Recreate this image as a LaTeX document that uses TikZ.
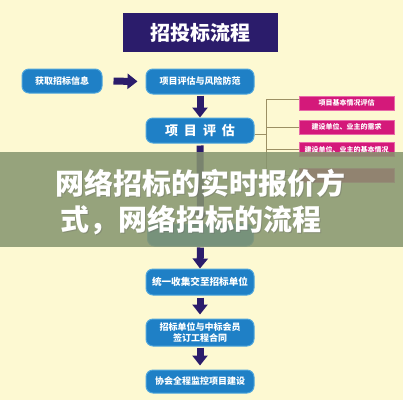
\documentclass[tikz,border=0pt]{standalone}
\usepackage{fontspec}
\setmainfont{Noto Sans CJK SC}
\usetikzlibrary{arrows.meta}
\definecolor{bgy}{HTML}{FDF9D2}
\definecolor{navy}{HTML}{2B1C6B}
\definecolor{bblue}{HTML}{1F80C6}
\definecolor{bbord}{HTML}{4FA6DC}
\definecolor{pink}{HTML}{D4197A}
\definecolor{pbord}{HTML}{E86AA8}
\definecolor{brk}{HTML}{9C9064}
\definecolor{ovl}{HTML}{86956F}
\tikzset{
  bluebox/.style={draw=bbord,line width=1pt,fill=bblue,rounded corners=7pt,text=white,font=\bfseries\fontsize{9}{11}\selectfont,minimum width=108pt,minimum height=25pt,inner sep=1pt,align=center},
  pinkbox/.style={draw=pbord,line width=0.6pt,fill=pink,text=white,font=\bfseries\fontsize{7}{8}\selectfont,minimum width=95pt,minimum height=14pt,inner sep=0pt},
  brline/.style={draw=brk,line width=0.6pt},
  ar/.style={draw=navy,line width=7pt,-{Triangle[width=15pt,length=10pt]}},
  bigtxt/.style={anchor=west,font=\bfseries\fontsize{29}{32}\selectfont,inner sep=0pt}
}
\begin{document}
\begin{tikzpicture}[x=1pt,y=-1pt]
\useasboundingbox (0,0) rectangle (403,400);
\fill[bgy] (0,0) rectangle (403,400);
% title
\node[fill=navy,minimum width=155pt,minimum height=39pt,text=white,font=\bfseries\fontsize{20}{22}\selectfont,inner sep=0pt] (title) at (200.5,32.5) {招投标流程};
% boxes
\node[bluebox,minimum width=80pt,minimum height=24pt] (b1) at (62,81) {获取招标信息};
\node[bluebox] (b2) at (200,81.5) {项目评估与风险防范};
\node[bluebox,font=\bfseries\fontsize{13}{15}\selectfont] (b3) at (200,130.5) {项\hspace{6pt}目\hspace{6pt}评\hspace{6pt}估};
\node[bluebox,minimum width=106pt,minimum height=22pt] (b4) at (200.5,235) {};
\node[bluebox,minimum height=26pt,font=\bfseries\fontsize{9.6}{11}\selectfont] (b5) at (200,282) {统一收集交至招标单位};
\node[bluebox,minimum height=27pt] (b6) at (200,332.5) {招标单位与中标会员\\签订工程合同};
\node[bluebox,minimum height=23pt] (b7) at (200,381.5) {协会全程监控项目建设};
% pink boxes
\node[pinkbox] (p1) at (346.5,103) {项目基本情况评估};
\node[pinkbox] (p2) at (346.5,127) {建设单位、业主的需求};
\node[pinkbox] (p3) at (346.5,149.5) {建设单位、业主的基本情况};
\node[pinkbox] (p4) at (346.5,175.5) {};
% bracket
\coordinate (v0) at (266,99);
\coordinate (v1) at (266,175.5);
\draw[brline] (v0) -- (v1);
\draw[brline] (v0) -- (p1.west |- v0);
\draw[brline] (266,127) -- (p2.west);
\draw[brline] (266,149.5) -- (p3.west);
\draw[brline] (266,175.5) -- (p4.west);
\draw[brline] (b3.east |- 0,134) -- (266,134);
% arrows
\draw[ar,shorten <=11pt,shorten >=8pt] (b1.east) -- (b2.west);
\draw[ar,shorten <=1pt] (b2.south) -- (b3.north);
\draw[ar,shorten <=2pt,shorten >=1pt] (b3.south) -- (b4.north);
\draw[ar,shorten <=1pt] (b4.south) -- (b5.north);
\draw[ar,shorten <=2pt,shorten >=4pt] (b5.south) -- (b6.north);
\draw[ar,shorten <=1pt,shorten >=4pt] (b6.south) -- (b7.north);
% overlay
\fill[ovl,opacity=0.86] (0,152) rectangle (403,247);
\node[bigtxt,text=black!60,opacity=0.35] at (56.5,184.5) {网络招标的实时报价方};
\node[bigtxt,text=white] (t1) at (55,183) {网络招标的实时报价方};
\node[bigtxt,text=black!60,opacity=0.35] at (61.5,221.5) {式，网络招标的流程};
\node[bigtxt,text=white] (t2) at (60,220) {式，网络招标的流程};
\end{tikzpicture}
\end{document}
